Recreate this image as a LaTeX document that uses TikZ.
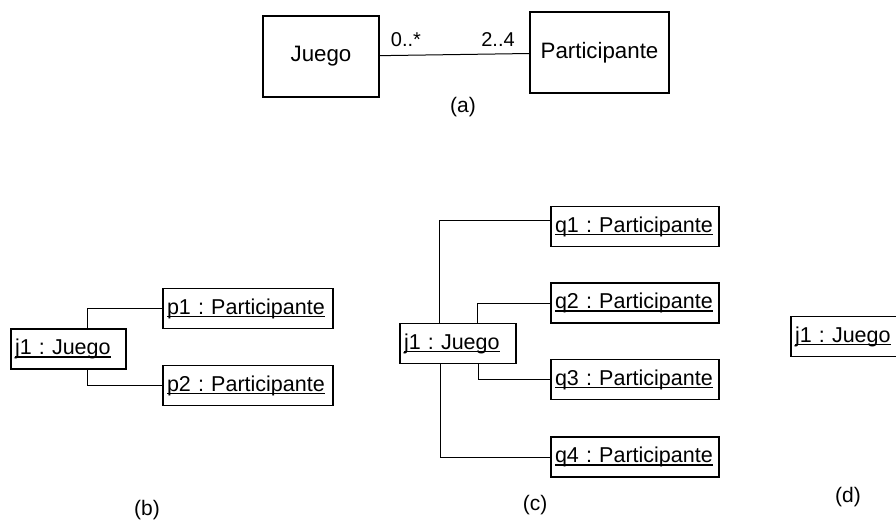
\documentclass[tikz,border=0pt]{standalone}
\usepackage{fontspec}
\setmainfont{Liberation Sans}
\frenchspacing
% object name underlined at a fixed depth below the baseline
\newcommand\ulname[1]{\leavevmode\setbox0=\hbox{#1}\rlap{\rule[-3pt]{\wd0}{1.3pt}}\box0}
\begin{document}
\begin{tikzpicture}[x=1pt,y=-1pt,
  every node/.style={inner sep=0pt, outer sep=0pt},
  cls/.style={draw, line width=1.2pt, minimum width=#1, minimum height=81pt,
    font=\fontsize{22.3}{26}\selectfont},
  obj/.style={draw, line width=1.2pt, inner xsep=4pt, inner ysep=0pt,
    text width=#1, minimum height=40pt, align=left,
    font=\fontsize{21.5}{25}\selectfont},
  conn/.style={draw, line width=1pt},
  mult/.style={font=\fontsize{20}{24}\selectfont},
  lbl/.style={font=\fontsize{21}{25}\selectfont}]
\clip (0,0) rectangle (896,522);
\fill[white] (0,0) rectangle (896,522);

% (a) class diagram
\node[cls=116pt] (juego) at (321,56.5) {Juego};
\node[cls=139pt] (part) at (599.5,52.5) {Participante};
\draw[conn] (juego) -- (part);
\node[mult] (m0) at (406,40) {0..*};
\node[mult] (m2) at (498,40) {2..4};
\node[lbl] (la) at (463,107) {(a)};

% (b) one game with two participants
\node[obj=107pt] (j1b) at (68.5,349) {\ulname{j1 : Juego}};
\node[obj=162pt] (p1) at (248,308.5) {\ulname{p1 : Participante}};
\node[obj=162pt] (p2) at (248,385.5) {\ulname{p2 : Participante}};
\draw[conn] ([xshift=18.5pt]j1b.north) |- (p1.west);
\draw[conn] ([xshift=18.5pt]j1b.south) |- (p2.west);
\node[lbl] (lb) at (147,510) {(b)};

% (c) one game with four participants
\node[obj=108pt] (j1c) at (458,343.5) {\ulname{j1 : Juego}};
\node[obj=160pt] (q1) at (635,226.5) {\ulname{q1 : Participante}};
\node[obj=160pt] (q2) at (635,303) {\ulname{q2 : Participante}};
\node[obj=160pt] (q3) at (635,379.5) {\ulname{q3 : Participante}};
\node[obj=160pt] (q4) at (635,457) {\ulname{q4 : Participante}};
\draw[conn] ([xshift=-19pt]j1c.north) |- ([yshift=6pt]q1.west);
\draw[conn] ([xshift=19pt]j1c.north) |- (q2.west);
\draw[conn] ([xshift=20pt]j1c.south) |- (q3.west);
\draw[conn] ([xshift=-18pt]j1c.south) |- (q4.west);
\node[lbl] (lc) at (535,505) {(c)};

% (d) a game on its own
\node[obj=108pt] (j1d) at (849,336.5) {\ulname{j1 : Juego}};
\node[lbl] (ld) at (848,497) {(d)};
\end{tikzpicture}
\end{document}
